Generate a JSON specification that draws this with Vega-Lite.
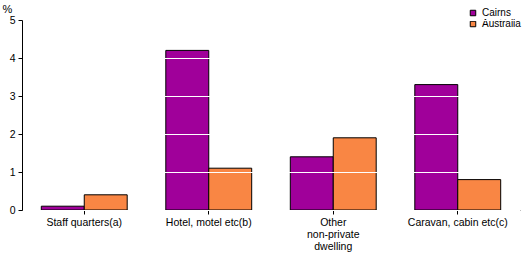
{
  "$schema": "https://vega.github.io/schema/vega-lite/v6.json",
  "width": 498,
  "height": 190,
  "autosize": "none",
  "padding": {"left": 22, "top": 20, "right": 9, "bottom": 43},
  "background": "white",
  "config": {
    "view": {"stroke": null},
    "font": "Liberation Sans",
    "axis": {"labelFont": "Liberation Sans", "labelFontSize": 10.5, "labelColor": "black", "domainColor": "black", "tickColor": "black"},
    "legend": {"labelFont": "Liberation Sans", "labelFontSize": 10, "labelColor": "black"}
  },
  "data": {
    "values": [
      {"category": "Staff quarters(a)", "series": "Cairns", "value": 0.1},
      {"category": "Staff quarters(a)", "series": "Australia", "value": 0.4},
      {"category": "Hotel, motel etc(b)", "series": "Cairns", "value": 4.2},
      {"category": "Hotel, motel etc(b)", "series": "Australia", "value": 1.1},
      {"category": "Other non-private dwelling", "series": "Cairns", "value": 1.4},
      {"category": "Other non-private dwelling", "series": "Australia", "value": 1.9},
      {"category": "Caravan, cabin etc(c)", "series": "Cairns", "value": 3.3},
      {"category": "Caravan, cabin etc(c)", "series": "Australia", "value": 0.8}
    ]
  },
  "mark": {"type": "bar", "stroke": "black", "strokeWidth": 1},
  "encoding": {
    "x": {
      "field": "category",
      "type": "nominal",
      "sort": null,
      "scale": {"paddingInner": 0.31, "paddingOuter": 0.155},
      "axis": {
        "title": null,
        "labelAngle": 0,
        "labelPadding": 3,
        "tickSize": 4,
        "labelExpr": "datum.label == 'Other non-private dwelling' ? ['Other', 'non-private', 'dwelling'] : datum.label",
        "labelLineHeight": 12
      }
    },
    "xOffset": {"field": "series", "type": "nominal", "sort": ["Cairns", "Australia"]},
    "y": {
      "field": "value",
      "type": "quantitative",
      "scale": {"domain": [0, 5], "nice": false},
      "axis": {
        "title": "%",
        "titleAngle": 0,
        "titleAlign": "left",
        "titleBaseline": "bottom",
        "titleX": -20,
        "titleY": -6,
        "titleFontSize": 11,
        "titleFontWeight": "normal",
        "values": [0, 1, 2, 3, 4, 5],
        "tickSize": 4,
        "labelPadding": 3,
        "grid": true,
        "gridColor": "white",
        "gridWidth": 1,
        "zindex": 1
      }
    },
    "color": {
      "field": "series",
      "type": "nominal",
      "sort": ["Cairns", "Australia"],
      "scale": {"domain": ["Cairns", "Australia"], "range": ["#a0009a", "#f98644"]},
      "legend": {
        "title": null,
        "orient": "none",
        "legendX": 446,
        "legendY": -12,
        "symbolType": "square",
        "symbolSize": 30,
        "symbolStrokeColor": "black",
        "symbolStrokeWidth": 1,
        "rowPadding": 1,
        "labelOffset": 4
      }
    }
  }
}
